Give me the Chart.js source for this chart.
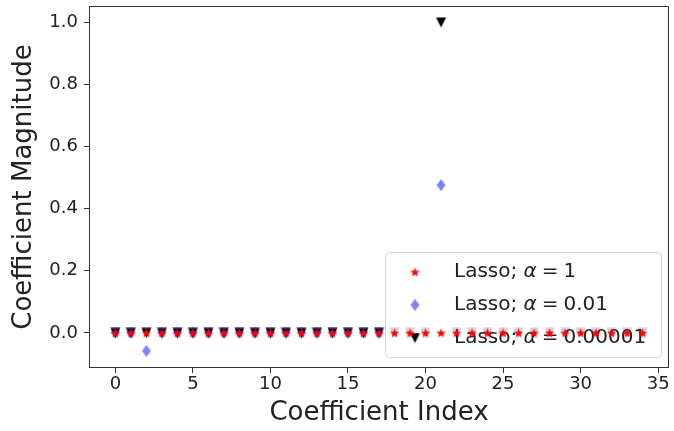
<!DOCTYPE html>
<html lang="en">
<head>
  <meta charset="UTF-8">
  <title>Lasso coefficients</title>
  <script src="https://cdn.jsdelivr.net/npm/chart.js"></script>
  <style>
    body {
      margin: 0;
      background: #fff;
    }
    #chart {
      display: block;
    }
  </style>
</head>
<body>
  <canvas id="chart" width="674" height="431"></canvas>

  <script>
    // Coefficient index on the x axis
    const coefIndex = [0, 1, 2, 3, 4, 5, 6, 7, 8, 9, 10, 11, 12, 13, 14, 15, 16, 17,
      18, 19, 20, 21, 22, 23, 24, 25, 26, 27, 28, 29, 30, 31, 32, 33, 34];

    // Coefficients for each alpha
    const lassoAlpha1 = [0, 0, 0, 0, 0, 0, 0, 0, 0, 0, 0, 0, 0, 0, 0, 0, 0, 0,
      0, 0, 0, 0, 0, 0, 0, 0, 0, 0, 0, 0, 0, 0, 0, 0, 0];
    const lassoAlpha001 = [0, 0, -0.058, 0, 0, 0, 0, 0, 0, 0, 0, 0, 0, 0, 0, 0, 0, 0,
      0, 0, 0, 0.476, 0, 0, 0, 0, 0, 0, 0, 0, 0, 0, 0, 0, 0];
    const lassoAlpha00001 = [0, 0, 0, 0, 0, 0, 0, 0, 0, 0, 0, 0, 0, 0, 0, 0, 0, 0,
      0, 0, 0, 1.0, 0, 0, 0, 0, 0, 0, 0, 0, 0, 0, 0, 0, 0];

    const alphaLabels = ['1', '0.01', '0.00001'];
    const xTicks = [0, 5, 10, 15, 20, 25, 30, 35];
    const yTicks = [0, 0.2, 0.4, 0.6, 0.8, 1.0];

    const FONT = '"DejaVu Sans", sans-serif';
    const TEXT = '#222';

    // little canvases used as point styles (filled star, thin diamond, down triangle)
    function markerCanvas(w, h, draw) {
      const c = document.createElement('canvas');
      c.width = w;
      c.height = h;
      draw(c.getContext('2d'), w, h);
      return c;
    }

    const starMarker = markerCanvas(11, 11, (ctx, w, h) => {
      const cx = w / 2, cy = h / 2 + 0.5, R = 5, r = 2.1;
      ctx.beginPath();
      for (let i = 0; i < 10; i++) {
        const rad = i % 2 === 0 ? R : r;
        const a = -Math.PI / 2 + i * Math.PI / 5;
        ctx.lineTo(cx + rad * Math.cos(a), cy + rad * Math.sin(a));
      }
      ctx.closePath();
      ctx.fillStyle = '#ff0000';
      ctx.fill();
    });

    const diamondMarker = markerCanvas(10, 13, (ctx, w, h) => {
      ctx.beginPath();
      ctx.moveTo(w / 2, 0.5);
      ctx.lineTo(w - 0.5, h / 2);
      ctx.lineTo(w / 2, h - 0.5);
      ctx.lineTo(0.5, h / 2);
      ctx.closePath();
      ctx.fillStyle = 'rgba(0, 0, 255, 0.5)';
      ctx.fill();
    });

    const triangleMarker = markerCanvas(11, 11, (ctx, w, h) => {
      ctx.beginPath();
      ctx.moveTo(0.5, 0.5);
      ctx.lineTo(w - 0.5, 0.5);
      ctx.lineTo(w / 2, h - 0.5);
      ctx.closePath();
      ctx.fillStyle = '#000';
      ctx.fill();
    });

    const markers = [starMarker, diamondMarker, triangleMarker];

    function toPoints(values) {
      return coefIndex.map((x, i) => ({ x: x, y: values[i] }));
    }

    // frame on all four sides like matplotlib spines
    const framePlugin = {
      id: 'frame',
      beforeDatasetsDraw(chart) {
        const a = chart.chartArea;
        const ctx = chart.ctx;
        ctx.save();
        ctx.strokeStyle = '#333';
        ctx.lineWidth = 1;
        ctx.strokeRect(a.left + 0.5, a.top + 0.5, a.right - a.left - 1, a.bottom - a.top - 1);
        ctx.restore();
      }
    };

    // legend inside the axes, drawn after the blue and black points, under the red stars
    const insideLegend = {
      id: 'insideLegend',
      afterDatasetDraw(chart, args) {
        if (args.index !== 1) return;
        const ctx = chart.ctx;
        const x = 385, y = 252, w = 276, h = 105, rad = 4;
        ctx.save();
        ctx.beginPath();
        ctx.roundRect(x + 0.5, y + 0.5, w, h, rad);
        ctx.fillStyle = 'rgba(255, 255, 255, 0.8)';
        ctx.fill();
        ctx.strokeStyle = '#d3d3d3';
        ctx.lineWidth = 1;
        ctx.stroke();

        const rows = [272, 305, 338];
        ctx.textBaseline = 'middle';
        ctx.fillStyle = TEXT;
        rows.forEach((ry, i) => {
          const m = markers[i];
          ctx.drawImage(m, 415 - m.width / 2, ry - m.height / 2);
          let tx = 454;
          ctx.font = '20px ' + FONT;
          ctx.fillText('Lasso; ', tx, ry);
          tx += ctx.measureText('Lasso; ').width;
          ctx.font = 'italic 20px ' + FONT;
          ctx.fillText('α', tx, ry);
          tx += ctx.measureText('α').width + 5;
          ctx.font = '20px ' + FONT;
          ctx.fillText('=', tx, ry);
          tx += ctx.measureText('=').width + 5;
          ctx.fillText(alphaLabels[i], tx, ry);
        });
        ctx.restore();
      }
    };

    const ctx = document.getElementById('chart').getContext('2d');
    new Chart(ctx, {
      type: 'scatter',
      data: {
        datasets: [
          {
            label: 'Lasso; α = ' + alphaLabels[0],
            data: toPoints(lassoAlpha1),
            pointStyle: starMarker,
            order: 0
          },
          {
            label: 'Lasso; α = ' + alphaLabels[1],
            data: toPoints(lassoAlpha001),
            pointStyle: diamondMarker,
            order: 1
          },
          {
            label: 'Lasso; α = ' + alphaLabels[2],
            data: toPoints(lassoAlpha00001),
            pointStyle: triangleMarker,
            order: 2
          }
        ]
      },
      options: {
        responsive: false,
        animation: false,
        devicePixelRatio: 1,
        layout: {
          padding: { left: 0, top: 6, right: 3, bottom: 0 }
        },
        plugins: {
          legend: { display: false },
          tooltip: { enabled: false }
        },
        scales: {
          x: {
            type: 'linear',
            min: -1.7,
            max: 35.7,
            afterFit: s => { s.height = 63; s.paddingLeft = 0; s.paddingRight = 0; },
            afterBuildTicks: s => { s.ticks = xTicks.map(v => ({ value: v })); },
            border: { display: false },
            grid: { drawOnChartArea: false, drawTicks: true, tickLength: 5, color: '#333' },
            ticks: {
              padding: 1,
              color: TEXT,
              font: { family: FONT, size: 18 },
              callback: v => String(v)
            },
            title: {
              display: true,
              text: 'Coefficient Index',
              color: TEXT,
              font: { family: FONT, size: 26 },
              padding: { top: 0, bottom: 2 }
            }
          },
          y: {
            type: 'linear',
            min: -0.113,
            max: 1.053,
            afterFit: s => { s.width = 89; s.paddingTop = 0; s.paddingBottom = 0; },
            afterBuildTicks: s => { s.ticks = yTicks.map(v => ({ value: v })); },
            border: { display: false },
            grid: { drawOnChartArea: false, drawTicks: true, tickLength: 5, color: '#333' },
            ticks: {
              padding: 6,
              color: TEXT,
              font: { family: FONT, size: 18 },
              callback: v => v.toFixed(1)
            },
            title: {
              display: true,
              text: 'Coefficient Magnitude',
              color: TEXT,
              font: { family: FONT, size: 26 },
              padding: { top: 9, bottom: 0 }
            }
          }
        }
      },
      plugins: [framePlugin, insideLegend]
    });
  </script>
</body>
</html>
